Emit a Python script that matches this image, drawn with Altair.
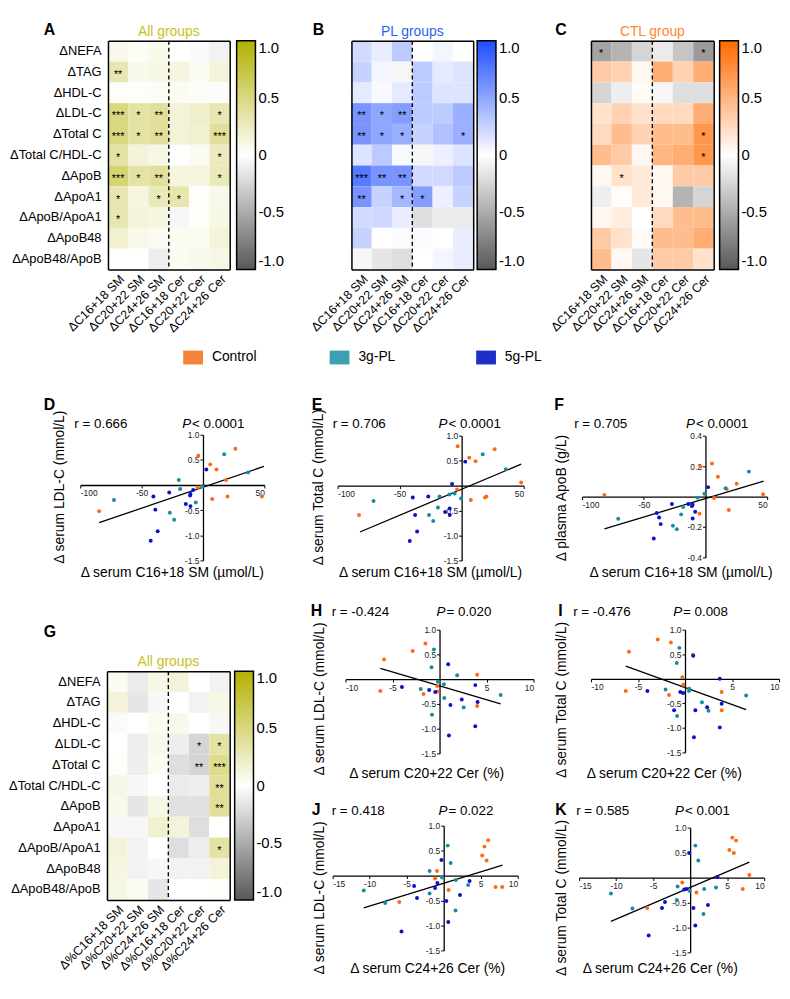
import altair as alt
import pandas as pd

FONT = "Liberation Sans"

# ---------------- heatmap data ----------------
rows = ["ΔNEFA", "ΔTAG", "ΔHDL-C", "ΔLDL-C", "ΔTotal C", "ΔTotal C/HDL-C",
        "ΔApoB", "ΔApoA1", "ΔApoB/ApoA1", "ΔApoB48", "ΔApoB48/ApoB"]
cols_abs = ["ΔC16+18 SM", "ΔC20+22 SM", "ΔC24+26 SM", "ΔC16+18 Cer", "ΔC20+22 Cer", "ΔC24+26 Cer"]
cols_pct = ["Δ%C16+18 SM", "Δ%C20+22 SM", "Δ%C24+26 SM", "Δ%C16+18 Cer", "Δ%C20+22 Cer", "Δ%C24+26 Cer"]

vals_A = [
    [0.08, 0.03, 0.08, 0.00, -0.03, -0.08],
    [0.30, 0.08, 0.10, 0.12, 0.05, 0.15],
    [0.02, 0.02, 0.03, 0.05, 0.03, -0.02],
    [0.50, 0.35, 0.40, 0.15, 0.20, 0.30],
    [0.50, 0.35, 0.40, 0.15, 0.18, 0.40],
    [0.35, 0.15, 0.10, 0.00, 0.05, 0.25],
    [0.55, 0.35, 0.40, 0.12, 0.12, 0.28],
    [0.30, 0.12, 0.28, 0.32, 0.02, 0.08],
    [0.30, 0.15, 0.12, -0.05, 0.02, 0.10],
    [0.18, 0.08, 0.06, 0.05, 0.05, 0.15],
    [0.00, 0.00, -0.10, 0.05, 0.08, 0.10],
]
stars_A = [
    ["", "", "", "", "", ""],
    ["**", "", "", "", "", ""],
    ["", "", "", "", "", ""],
    ["***", "*", "**", "", "", "*"],
    ["***", "*", "**", "", "", "***"],
    ["*", "", "", "", "", "*"],
    ["***", "*", "**", "", "", "*"],
    ["*", "", "*", "*", "", ""],
    ["*", "", "", "", "", ""],
    ["", "", "", "", "", ""],
    ["", "", "", "", "", ""],
]
vals_B = [
    [0.20, 0.10, 0.30, 0.00, 0.05, 0.00],
    [0.25, 0.05, -0.05, 0.30, 0.12, 0.15],
    [0.12, 0.03, 0.12, 0.30, 0.15, 0.15],
    [0.60, 0.50, 0.55, 0.30, 0.30, 0.45],
    [0.60, 0.50, 0.45, 0.25, 0.35, 0.45],
    [0.15, 0.30, 0.03, -0.05, 0.08, 0.15],
    [0.75, 0.60, 0.60, 0.20, 0.20, 0.30],
    [0.60, 0.25, 0.40, 0.55, 0.08, 0.25],
    [0.20, 0.22, 0.10, -0.20, -0.12, -0.12],
    [0.25, 0.00, 0.02, 0.02, 0.00, 0.10],
    [-0.05, -0.15, -0.20, 0.00, 0.05, 0.10],
]
stars_B = [
    ["", "", "", "", "", ""],
    ["", "", "", "", "", ""],
    ["", "", "", "", "", ""],
    ["**", "*", "**", "", "", ""],
    ["**", "*", "*", "", "", "*"],
    ["", "", "", "", "", ""],
    ["***", "**", "**", "", "", ""],
    ["**", "", "*", "*", "", ""],
    ["", "", "", "", "", ""],
    ["", "", "", "", "", ""],
    ["", "", "", "", "", ""],
]
vals_C = [
    [-0.55, -0.45, -0.25, -0.12, -0.35, -0.60],
    [0.35, 0.30, 0.05, 0.55, 0.30, 0.55],
    [-0.25, -0.10, 0.03, -0.05, -0.20, -0.20],
    [0.20, 0.30, 0.20, 0.25, 0.25, 0.55],
    [0.25, 0.45, 0.30, 0.45, 0.45, 0.70],
    [0.45, 0.35, 0.05, 0.50, 0.55, 0.70],
    [0.05, 0.20, 0.15, 0.05, 0.35, 0.35],
    [-0.10, 0.02, 0.15, 0.05, -0.45, -0.25],
    [0.05, 0.12, 0.00, 0.25, 0.45, 0.45],
    [0.35, 0.20, 0.03, 0.45, 0.45, 0.55],
    [0.45, 0.05, -0.15, 0.35, 0.35, 0.20],
]
stars_C = [
    ["*", "", "", "", "", "*"],
    ["", "", "", "", "", ""],
    ["", "", "", "", "", ""],
    ["", "", "", "", "", ""],
    ["", "", "", "", "", "*"],
    ["", "", "", "", "", "*"],
    ["", "*", "", "", "", ""],
    ["", "", "", "", "", ""],
    ["", "", "", "", "", ""],
    ["", "", "", "", "", ""],
    ["", "", "", "", "", ""],
]
vals_G = [
    [0.05, -0.12, 0.10, 0.15, 0.00, -0.08],
    [0.15, -0.15, -0.05, 0.00, -0.08, 0.10],
    [-0.03, 0.00, 0.05, 0.08, 0.00, -0.05],
    [0.00, -0.10, 0.08, -0.10, -0.25, 0.35],
    [0.02, -0.10, 0.05, -0.20, -0.25, 0.45],
    [0.10, -0.05, 0.00, -0.12, -0.10, 0.40],
    [0.08, -0.15, 0.10, -0.18, -0.18, 0.40],
    [-0.05, -0.05, 0.18, 0.15, -0.20, 0.00],
    [0.15, -0.08, 0.00, -0.20, -0.10, 0.35],
    [0.12, -0.08, -0.05, -0.08, -0.08, 0.15],
    [0.10, 0.05, -0.15, 0.00, 0.00, 0.02],
]
stars_G = [
    ["", "", "", "", "", ""],
    ["", "", "", "", "", ""],
    ["", "", "", "", "", ""],
    ["", "", "", "", "*", "*"],
    ["", "", "", "", "**", "***"],
    ["", "", "", "", "", "**"],
    ["", "", "", "", "", "**"],
    ["", "", "", "", "", ""],
    ["", "", "", "", "", "*"],
    ["", "", "", "", "", ""],
    ["", "", "", "", "", ""],
]

# ---------------- scatter data (x, y) per group ----------------
GROUPS = ["Control", "3g-PL", "5g-PL"]
PT_COLORS = ["#ff6a13", "#168ea2", "#0b10d0"]
LEG_COLORS = ["#f5843a", "#3c9fb3", "#1d2fc7"]

D_ctl = [(26.4, 0.72), (-3.8, 0.58), (5.9, 0.41), (11, 0.31), (18.9, 0.10), (-4.3, -0.05),
         (7.5, -0.28), (20, -0.23), (48, -0.23), (-84.6, -0.52)]
D_3g = [(17.3, 0.61), (36.7, 0.25), (-19.7, 0.10), (-18.6, -0.08), (-0.5, -0.03), (-72.5, -0.30),
        (-5.9, -0.35), (-27, -0.55), (-23.5, -0.69)]
D_5g = [(2.7, 0.31), (-8, -0.10), (-10.2, -0.18), (-10.5, -0.21), (-27.5, -0.15), (-40.4, -0.23),
        (-38.8, -0.49), (-14, -0.38), (-10.2, -0.42), (-36.9, -0.92), (-42.6, -1.11)]
D_fit_x = [-84.6, 49.6]
D_fit_y = [-0.75, 0.37]

E_ctl = [(-3.2, 0.79), (6.1, 0.56), (11.2, 0.49), (26.6, 0.73), (48, 0.06), (-3.7, -0.08),
         (7.4, -0.29), (18.9, -0.24), (20, -0.22), (-82.7, -0.59)]
E_3g = [(17, 0.63), (35.6, 0.33), (-17.8, -0.22), (-9.8, -0.18), (-5.6, -0.16), (-0.5, -0.26),
        (-71, -0.31), (-19.1, -0.44), (-26.3, -0.59), (-22.9, -0.71)]
E_5g = [(2.9, 0.48), (-7.7, 0.03), (-39.4, -0.24), (-26.9, -0.22), (-37.5, -0.59), (-13.3, -0.53),
        (-9.6, -0.46), (-9.6, -0.59), (-35.9, -0.92), (-41.8, -1.11)]
E_fit_x = [-82, 48]
E_fit_y = [-0.93, 0.43]

F_ctl = [(-81.9, 0.011), (-4, 0.197), (5.3, 0.217), (10.1, 0.13), (25.3, 0.084), (17.3, 0.049),
         (6.9, -0.009), (46.7, 0.015), (18.9, -0.088), (-4.8, -0.113)]
F_3g = [(35.2, 0.164), (16.3, 0.055), (-6.4, -0.007), (-0.8, 0.018), (-18.1, -0.069), (-19.7, -0.117),
        (-70.7, -0.146), (-26.4, -0.192), (-23.2, -0.214)]
F_5g = [(2.1, 0.062), (-27.2, -0.049), (-13.9, -0.049), (-10.4, -0.053), (-11, -0.062), (-39.5, -0.108),
        (-37.6, -0.137), (-8.3, -0.10), (-10.4, -0.144), (-36.3, -0.181), (-41.9, -0.276)]
F_fit_x = [-81.9, 47.2]
F_fit_y = [-0.212, 0.102]

H_ctl = [(-5.9, 0.40), (-2.85, 0.57), (-1.5, 0.72), (-6.3, -0.24), (-1.7, -0.30), (-0.2, -0.25),
         (-0.25, -0.14), (4.0, 0.09), (4.0, -0.54)]
H_3g = [(-0.6, 0.60), (-0.85, 0.24), (1.87, 0.08), (-0.18, -0.05), (0.46, -0.10), (-2.0, -0.20),
        (0.5, -0.38), (2.57, -0.57), (-0.8, -0.72), (6.5, -0.32)]
H_5g = [(0.92, 0.30), (-4.0, -0.16), (-1.1, -0.22), (-0.46, -0.26), (3.8, -0.12), (4.05, -0.46),
        (2.36, -0.41), (1.16, -0.52), (3.8, -0.95), (1.0, -1.14)]
H_fit_x = [-6.3, 6.5]
H_fit_y = [0.22, -0.50]

I_ctl = [(-5.96, 0.55), (-2.9, 0.80), (-1.5, 0.74), (0.84, 0.49), (-0.28, 0.03), (-0.18, -0.12),
         (-6.3, -0.25), (-1.7, -0.33), (3.9, -0.27), (3.9, -0.64)]
I_3g = [(-0.6, 0.63), (-0.88, 0.32), (-2.07, -0.22), (0.46, -0.20), (0.42, -0.25), (1.8, -0.48),
        (2.5, -0.65), (-0.84, -0.76), (6.5, -0.34)]
I_5g = [(0.88, 0.47), (3.7, 0.0), (-4.0, -0.25), (-0.5, -0.27), (-0.2, -0.29), (3.9, -0.51),
        (2.35, -0.58), (1.1, -0.64), (-1.16, -0.64), (3.7, -0.99), (0.95, -1.19)]
I_fit_x = [-6.3, 6.5]
I_fit_y = [0.26, -0.63]

J_ctl = [(6.0, 0.71), (5.5, 0.58), (5.2, 0.40), (5.8, 0.30), (-0.9, 0.09), (-1.16, -0.06),
         (0.67, -0.29), (-6.0, -0.53), (7.0, -0.23), (7.9, -0.23)]
J_3g = [(0.54, 0.60), (0.94, 0.25), (-1.9, 0.09), (-0.22, -0.04), (1.65, -0.09), (3.3, -0.19),
        (-1.9, -0.36), (-10.8, -0.30), (-7.9, -0.55), (1.6, -0.70)]
J_5g = [(-0.3, 0.31), (-4.0, -0.21), (-3.6, -0.45), (-1.16, -0.25), (-0.85, -0.15), (0.36, -0.51),
        (2.2, -0.39), (3.5, -0.11), (0.62, -0.93), (-5.7, -1.12)]
J_fit_x = [-10.8, 7.95]
J_fit_y = [-0.65, 0.21]

K_ctl = [(5.7, 0.80), (6.2, 0.74), (5.3, 0.55), (5.9, 0.49), (8.0, 0.05), (-1.07, -0.10),
         (0.85, -0.30), (-5.8, -0.61), (7.1, -0.23)]
K_3g = [(0.7, 0.64), (1.1, 0.34), (-1.7, -0.18), (-0.05, -0.27), (1.9, -0.23), (3.5, -0.20),
        (-1.8, -0.45), (-10.7, -0.32), (-7.8, -0.62), (1.8, -0.73)]
K_5g = [(-0.13, 0.49), (3.7, 0.01), (-0.8, -0.24), (-0.5, -0.23), (-3.4, -0.49), (-3.8, -0.61),
        (0.45, -0.61), (2.4, -0.55), (0.7, -0.96), (-5.6, -1.16)]
K_fit_x = [-10.7, 8.0]
K_fit_y = [-0.88, 0.31]

# ---------------- canvas / layout helpers ----------------
W, H = 782, 991          # canvas = page area right of / below the 8px margin
M = 8                    # page margin


def P(v):
    """page pixel -> canvas pixel"""
    return v - M


ONE = pd.DataFrame({"a": [0]})
LOW = "#585858"
NEG_FMT = ("datum.value == 0 ? '0' : (datum.value < 0 ? '-' + format(-datum.value, '.1f') "
           ": format(datum.value, '.1f'))")


def text_at(txt, x, y, size=13.5, weight="normal", style="normal", align="left",
            baseline="alphabetic", angle=0, color="black"):
    return alt.Chart(ONE).mark_text(
        text=txt, font=FONT, fontSize=size, fontWeight=weight, fontStyle=style,
        align=align, baseline=baseline, angle=angle, color=color
    ).encode(x=alt.value(P(x)), y=alt.value(P(y)))


def heatmap(cols, vals, stars, hi, title, tcolor, letter, let_xy, box, cb_x, row_labels=True):
    bx0, bx1, by0, by1 = box
    x0, x1, y0, y1 = P(bx0), P(bx1), P(by0), P(by1)
    recs = []
    for i, r in enumerate(rows):
        for j, c in enumerate(cols):
            recs.append({"row": r, "col": c, "r": vals[i][j], "sig": stars[i][j]})
    df = pd.DataFrame(recs)
    xs = alt.Scale(domain=cols, range=[x0, x1], paddingInner=0, paddingOuter=0)
    ys = alt.Scale(domain=rows, range=[y0, y1], paddingInner=0, paddingOuter=0)
    edge = dict(domain=True, domainColor="black", domainWidth=1.5, ticks=False, grid=False,
                title=None, zindex=2)
    xax = alt.Axis(orient="bottom", offset=y1 - H, labelAngle=-45, labelFontSize=12.5,
                   labelFont=FONT, labelColor="black", labelPadding=3, labelOverlap=False,
                   labelLimit=300, **edge)
    yax = alt.Axis(orient="left", offset=-x0, labels=row_labels, labelFontSize=13, labelFont=FONT,
                   labelColor="black", labelPadding=7, labelLimit=300, **edge)
    xtop = alt.Axis(orient="top", offset=-y0, labels=False, **edge)
    yright = alt.Axis(orient="right", offset=x1 - W, labels=False, **edge)
    color = alt.Color(
        "r:Q",
        scale=alt.Scale(domain=[-1, 0, 1], range=[LOW, "#ffffff", hi], interpolate="rgb"),
        legend=alt.Legend(title=None, orient="none", legendX=P(cb_x), legendY=y0,
                          gradientLength=y1 - y0, gradientThickness=19,
                          gradientStrokeColor="black", gradientStrokeWidth=1.5,
                          values=[-1, -0.5, 0, 0.5, 1], labelExpr=NEG_FMT, labelFontSize=15,
                          labelFont=FONT, labelColor="black", labelOffset=3, padding=0,
                          labelBaseline="middle"),
    )
    rect = alt.Chart(df).mark_rect().encode(
        x=alt.X("col:N", scale=xs, axis=xax), y=alt.Y("row:N", scale=ys, axis=yax), color=color)
    st = alt.Chart(df).mark_text(fontSize=11, font=FONT, color="black", dy=3).encode(
        x=alt.X("col:N", scale=xs, axis=xtop), y=alt.Y("row:N", scale=ys, axis=yright),
        text="sig:N")
    rule = alt.Chart(pd.DataFrame({"col": [cols[3]]})).mark_rule(
        color="black", strokeDash=[4, 3], strokeWidth=1.4).encode(
        x=alt.X("col:N", scale=xs, bandPosition=0, axis=None),
        y=alt.value(y0), y2=alt.value(y1))
    ttl = text_at(title, (bx0 + bx1) / 2, by0 - 5, size=14, align="center", color=tcolor)
    let = text_at(letter, let_xy[0], let_xy[1], size=16, weight="bold")
    return [rect, st, rule, ttl, let]


def scatter(ctl, g3, g5, fit_x, fit_y, xdom, ydom, xvals, yvals, box,
            letter, let_xy, r_txt, r_xy, p_txt, p_x, xtitle, xt_xy, ytitle, yt_xy):
    bx0, bx1, by0, by1 = box
    x0, x1, y0, y1 = P(bx0), P(bx1), P(by0), P(by1)
    recs = []
    for g, lst in zip(GROUPS, [ctl, g3, g5]):
        for (x, y) in lst:
            recs.append({"x": x, "y": y, "g": g})
    df = pd.DataFrame(recs)
    xs = alt.Scale(domain=xdom, range=[x0, x1], nice=False, zero=False)
    ys = alt.Scale(domain=ydom, range=[y1, y0], nice=False, zero=False)
    yzero = y1 - (0 - ydom[0]) / (ydom[1] - ydom[0]) * (y1 - y0)
    xzero = x0 + (0 - xdom[0]) / (xdom[1] - xdom[0]) * (x1 - x0)
    common = dict(title=None, grid=False, labelFontSize=8.5, labelFont=FONT, labelColor="#222222",
                  tickSize=3, tickColor="black", domainColor="black", domainWidth=1.3, tickWidth=1,
                  labelOverlap=False, labelPadding=1)
    xax = alt.Axis(orient="bottom", offset=yzero - H, values=xvals,
                   labelExpr="datum.value < 0 ? '-' + format(-datum.value, 'd') : format(datum.value, 'd')",
                   **common)
    yax = alt.Axis(orient="left", offset=-xzero, values=yvals,
                   labelExpr="datum.value < 0 ? '-' + format(-datum.value, '.1f') : format(datum.value, '.1f')",
                   **common)
    line = alt.Chart(pd.DataFrame({"x": fit_x, "y": fit_y})).mark_line(
        color="black", strokeWidth=1.3).encode(
        x=alt.X("x:Q", scale=xs, axis=xax), y=alt.Y("y:Q", scale=ys, axis=yax))
    pts = alt.Chart(df).mark_circle(size=16, opacity=1).encode(
        x=alt.X("x:Q", scale=xs, axis=None), y=alt.Y("y:Q", scale=ys, axis=None),
        color=alt.Color("g:N", scale=alt.Scale(domain=GROUPS, range=PT_COLORS), legend=None))
    return [line, pts,
            text_at(letter, let_xy[0], let_xy[1], size=16, weight="bold"),
            text_at(r_txt, r_xy[0], r_xy[1]),
            text_at("P", p_x, r_xy[1], style="italic"),
            text_at(p_txt, p_x + 10, r_xy[1]),
            text_at(xtitle, xt_xy[0], xt_xy[1], size=14, align="center"),
            text_at(ytitle, yt_xy[0], yt_xy[1], size=14, align="center", baseline="middle", angle=270)]


layers = []
# heatmaps: box = (left, right, top, bottom) in page px
layers += heatmap(cols_abs, vals_A, stars_A, "#b3b000", "All groups", "#c8c21a", "A", (44, 30),
                  (109, 232, 36, 267), 239)
layers += heatmap(cols_abs, vals_B, stars_B, "#1f4dff", "PL groups", "#2b63f5", "B", (316, 30),
                  (355, 478, 36, 267), 482, row_labels=False)
layers += heatmap(cols_abs, vals_C, stars_C, "#ff6a00", "CTL group", "#ff8533", "C", (561, 30),
                  (597, 721, 36, 267), 727, row_labels=False)
layers += heatmap(cols_pct, vals_G, stars_G, "#b3b000", "All groups", "#c8c21a", "G", (44, 638),
                  (108, 232, 673, 904), 237)

yv = [-1.5, -1.0, -0.5, 0.5, 1.0]
layers += scatter(D_ctl, D_3g, D_5g, D_fit_x, D_fit_y, [-100, 50], [-1.5, 1.0], [-100, -50, 50], yv,
                  (81, 267, 434, 561), "D", (44, 409), "r = 0.666", (75, 427), "< 0.0001", 184,
                  "Δ serum C16+18 SM (µmol/L)", (174, 578), "Δ serum LDL-C (mmol/L)", (61, 487))
layers += scatter(E_ctl, E_3g, E_5g, E_fit_x, E_fit_y, [-100, 50], [-1.5, 1.0], [-100, -50, 50], yv,
                  (341, 529, 435, 561), "E", (315, 409), "r = 0.706", (336, 427), "< 0.0001", 443,
                  "Δ serum C16+18 SM (µmol/L)", (435, 578), "Δ serum Total C (mmol/L)", (322, 487))
layers += scatter(F_ctl, F_3g, F_5g, F_fit_x, F_fit_y, [-100, 50], [-0.4, 0.4], [-100, -50, 50],
                  [-0.4, -0.2, 0.2, 0.4],
                  (588, 775, 435, 558), "F", (560, 409), "r = 0.705", (580, 427), "< 0.0001", 693,
                  "Δ serum C16+18 SM (µmol/L)", (688, 578), "Δ plasma ApoB (g/L)", (568, 498))
layers += scatter(H_ctl, H_3g, H_5g, H_fit_x, H_fit_y, [-10, 10], [-1.5, 1.0], [-10, -5, 5, 10], yv,
                  (349, 539, 631, 756), "H", (314, 617), "r = -0.424", (335, 617), "= 0.020", 441,
                  "Δ serum C20+22 Cer (%)", (431, 781), "Δ serum LDL-C (mmol/L)", (323, 701))
layers += scatter(I_ctl, I_3g, I_5g, I_fit_x, I_fit_y, [-10, 10], [-1.5, 1.0], [-10, -5, 5, 10], yv,
                  (597, 787, 631, 755), "I", (564, 617), "r = -0.476", (579, 617), "= 0.008", 680,
                  "Δ serum C20+22 Cer (%)", (671, 781), "Δ serum Total C (mmol/L)", (568, 702))
layers += scatter(J_ctl, J_3g, J_5g, J_fit_x, J_fit_y, [-15, 10], [-1.5, 1.0], [-15, -10, -5, 5, 10], yv,
                  (336, 523, 829, 955), "J", (315, 818), "r = 0.418", (335, 818), "= 0.022", 443,
                  "Δ serum C24+26 Cer (%)", (432, 978), "Δ serum LDL-C (mmol/L)", (323, 902))
layers += scatter(K_ctl, K_3g, K_5g, K_fit_x, K_fit_y, [-15, 10], [-1.5, 1.0], [-15, -10, -5, 5, 10], yv,
                  (585, 772, 831, 957), "K", (561, 818), "r = 0.585", (582, 818), "< 0.001", 682,
                  "Δ serum C24+26 Cer (%)", (667, 978), "Δ serum Total C (mmol/L)", (568, 902))

# group legend (Control / 3g-PL / 5g-PL)
leg_df = pd.DataFrame({"g": GROUPS})
leg_x = alt.X("g:N", scale=alt.Scale(type="point", domain=GROUPS, range=[P(195), P(491)], padding=0),
              axis=None)
layers.append(alt.Chart(leg_df).mark_point(shape="M-1,-0.7H1V0.7H-1Z", size=400, filled=True,
                                           opacity=1).encode(
    x=leg_x, y=alt.value(P(356)),
    color=alt.Color("g:N", scale=alt.Scale(domain=GROUPS, range=LEG_COLORS), legend=None)))
layers.append(alt.Chart(leg_df).mark_text(align="left", baseline="middle", dx=19, fontSize=14,
                                          font=FONT, color="black").encode(
    x=leg_x, y=alt.value(P(356)), text="g:N"))

chart = alt.layer(*layers).resolve_scale(
    x="independent", y="independent", color="independent"
).properties(
    width=W, height=H,
    autosize=alt.AutoSizeParams(type="none"),
    padding=0,
    background="white",
).configure_view(stroke=None)

chart.save("out.html", embed_options={"renderer": "svg", "actions": False})
